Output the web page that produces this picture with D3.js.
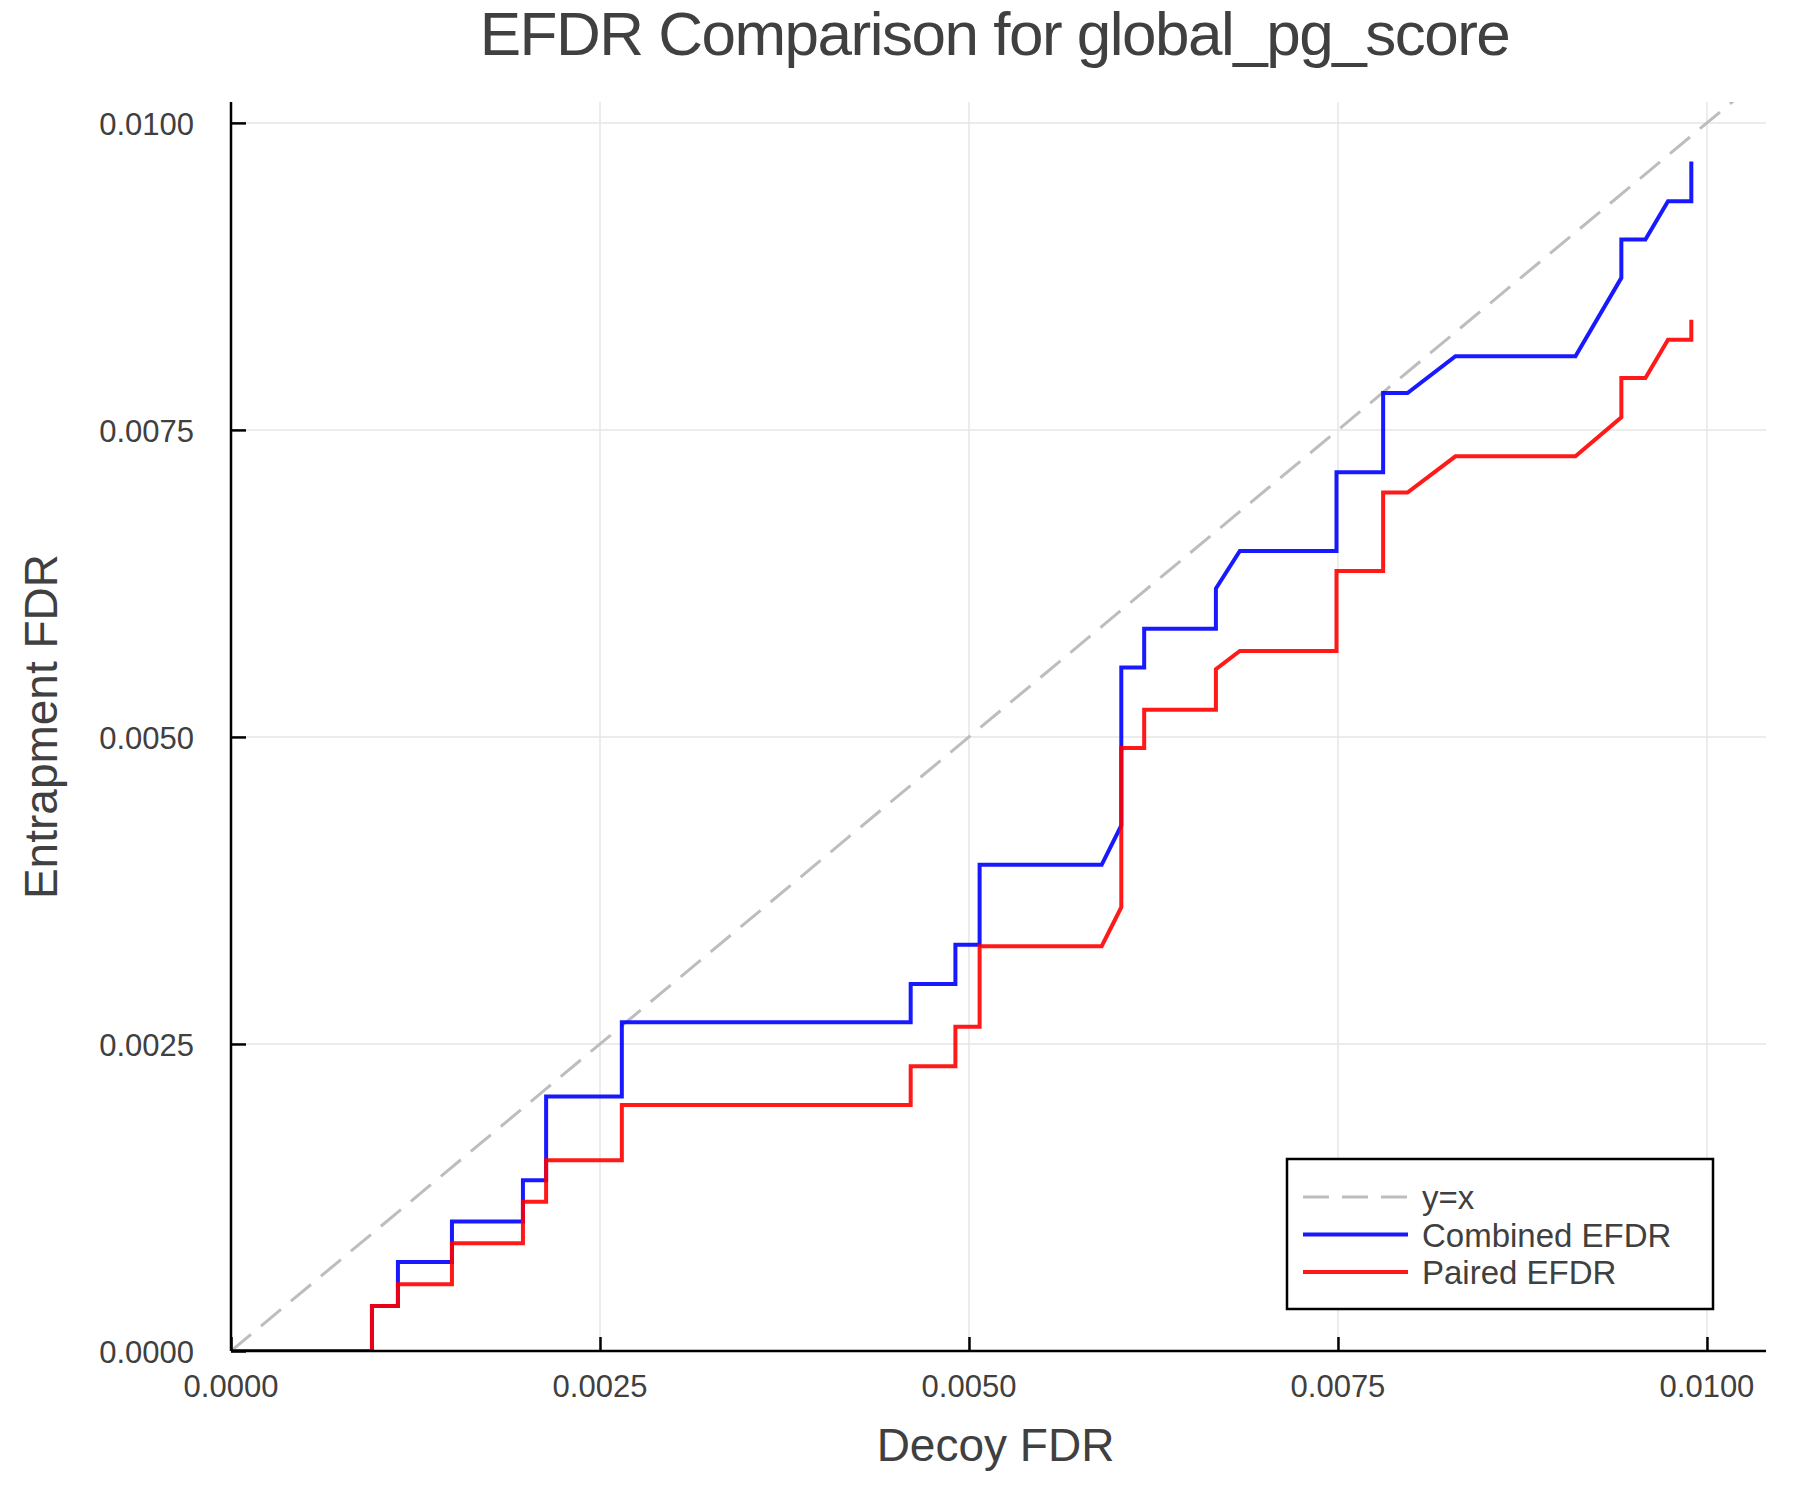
<!DOCTYPE html>
<html>
<head>
<meta charset="utf-8">
<script src="https://cdn.jsdelivr.net/npm/d3@7"></script>
<style>
  body { margin: 0; background: #fff; }
  svg text { font-family: "Liberation Sans", Arial, Helvetica, sans-serif; fill: #404040; }
</style>
</head>
<body>
<svg id="chart"></svg>
<script>
// values (decoy FDR vs entrapment FDR)
var xTicks = [0, 0.0025, 0.005, 0.0075, 0.01];
var yTicks = [0, 0.0025, 0.005, 0.0075, 0.01];

var decoyFdr = [0, 0.000955, 0.000955, 0.001131, 0.001131, 0.001497, 0.001497, 0.001978, 0.001978, 0.002135,
                0.002135, 0.002648, 0.002648, 0.004605, 0.004605, 0.004908, 0.004908, 0.005072, 0.005072, 0.005899,
                0.006032, 0.006032, 0.006187, 0.006187, 0.006673, 0.006673, 0.006835, 0.00749, 0.00749, 0.007806,
                0.007806, 0.007971, 0.008296, 0.009109, 0.00942, 0.00942, 0.009583, 0.009736, 0.009894, 0.009894];

var combinedEfdr = [0, 0, 0.000367, 0.000367, 0.000725, 0.000725, 0.001054, 0.001054, 0.001391, 0.001391,
                    0.002073, 0.002073, 0.002676, 0.002676, 0.002989, 0.002989, 0.003307, 0.003307, 0.003959, 0.003959,
                    0.004279, 0.005565, 0.005565, 0.00588, 0.00588, 0.006209, 0.006515, 0.006515, 0.007155, 0.007155,
                    0.0078, 0.0078, 0.0081, 0.0081, 0.008738, 0.00905, 0.00905, 0.009362, 0.009362, 0.009685];

var pairedEfdr = [0, 0, 0.000367, 0.000367, 0.000544, 0.000544, 0.000878, 0.000878, 0.001215, 0.001215,
                  0.001554, 0.001554, 0.002003, 0.002003, 0.002318, 0.002318, 0.002641, 0.002641, 0.003296, 0.003296,
                  0.003614, 0.00491, 0.00491, 0.005222, 0.005222, 0.005551, 0.0057, 0.0057, 0.006352, 0.006352,
                  0.00699, 0.00699, 0.007285, 0.007285, 0.007603, 0.007923, 0.007923, 0.008235, 0.008235, 0.008396];

var identityX = [0, 0.0104];
var seriesNames = ["y=x", "Combined EFDR", "Paired EFDR"];

var width = 1800,
    height = 1500,
    margins = { top: 102, left: 231, right: 34, bottom: 149 };

var svg = d3.select("#chart")
    .attr("width", width)
    .attr("height", height);

var xScale = d3.scaleLinear()
    .domain([0, 0.0104])
    .range([margins.left, width - margins.right]);

var yScale = d3.scaleLinear()
    .domain([0, 0.01017])
    .range([height - margins.bottom, margins.top]);

var fmt = d3.format(".4f");
var x0 = xScale.range()[0], x1 = xScale.range()[1];
var y0 = yScale.range()[0], y1 = yScale.range()[1];

svg.append("clipPath").attr("id", "plotClip")
  .append("rect")
    .attr("x", x0).attr("y", y1)
    .attr("width", x1 - x0).attr("height", y0 - y1);

// grid
svg.append("g").selectAll("line")
    .data(xTicks)
  .enter().append("line")
    .attr("x1", function(d) { return xScale(d); })
    .attr("x2", function(d) { return xScale(d); })
    .attr("y1", y0).attr("y2", y1)
    .style("stroke", "#e6e6e6").style("stroke-width", 1.5);

svg.append("g").selectAll("line")
    .data(yTicks)
  .enter().append("line")
    .attr("y1", function(d) { return yScale(d); })
    .attr("y2", function(d) { return yScale(d); })
    .attr("x1", x0).attr("x2", x1)
    .style("stroke", "#e6e6e6").style("stroke-width", 1.5);

// series
var plot = svg.append("g").attr("clip-path", "url(#plotClip)");

var line = d3.line()
    .x(function(d) { return xScale(d[0]); })
    .y(function(d) { return yScale(d[1]); });

plot.append("path")
    .datum(identityX.map(function(v) { return [v, v]; }))
    .attr("d", line)
    .style("fill", "none")
    .style("stroke", "#bdbdbd")
    .style("stroke-width", 3)
    .style("stroke-dasharray", "26,13");

plot.append("path")
    .datum(d3.zip(decoyFdr, combinedEfdr))
    .attr("d", line)
    .style("fill", "none")
    .style("stroke", "#0000ff")
    .style("stroke-opacity", 0.9)
    .style("stroke-width", 4);

plot.append("path")
    .datum(d3.zip(decoyFdr, pairedEfdr))
    .attr("d", line)
    .style("fill", "none")
    .style("stroke", "#ff0000")
    .style("stroke-opacity", 0.9)
    .style("stroke-width", 4);

// axes (ticks point into the plot)
var xAxis = d3.axisTop(xScale).tickValues(xTicks).tickSize(14).tickFormat("");
var yAxis = d3.axisRight(yScale).tickValues(yTicks).tickSize(15).tickFormat("");

var gx = svg.append("g").attr("transform", "translate(0," + y0 + ")").call(xAxis);
var gy = svg.append("g").attr("transform", "translate(" + x0 + ",0)").call(yAxis);
[gx, gy].forEach(function(g) {
  g.select(".domain").remove();
  g.selectAll(".tick line").style("stroke", "#000").style("stroke-width", 2.5);
});

svg.append("line")
    .attr("x1", x0).attr("x2", x1).attr("y1", y0).attr("y2", y0)
    .style("stroke", "#000").style("stroke-width", 2.5);
svg.append("line")
    .attr("x1", x0).attr("x2", x0).attr("y1", y0).attr("y2", y1)
    .style("stroke", "#000").style("stroke-width", 2.5);

svg.append("g").selectAll("text")
    .data(xTicks)
  .enter().append("text")
    .attr("x", function(d) { return xScale(d); })
    .attr("y", y0 + 46)
    .attr("text-anchor", "middle")
    .style("font-size", "31px")
    .text(fmt);

svg.append("g").selectAll("text")
    .data(yTicks)
  .enter().append("text")
    .attr("x", x0 - 37)
    .attr("y", function(d) { return yScale(d) + 12; })
    .attr("text-anchor", "end")
    .style("font-size", "31px")
    .text(fmt);

// titles
svg.append("text")
    .attr("x", (x0 + x1) / 2 - 4)
    .attr("y", 55)
    .attr("text-anchor", "middle")
    .style("font-size", "62px")
    .style("letter-spacing", "-1.5px")
    .text("EFDR Comparison for global_pg_score");

svg.append("text")
    .attr("x", (x0 + x1) / 2 - 3)
    .attr("y", 1461)
    .attr("text-anchor", "middle")
    .style("font-size", "46px")
    .text("Decoy FDR");

svg.append("text")
    .attr("transform", "translate(57," + ((y0 + y1) / 2) + ") rotate(-90)")
    .attr("text-anchor", "middle")
    .style("font-size", "46px")
    .text("Entrapment FDR");

// legend
var legend = svg.append("g").attr("transform", "translate(1287,1159)");
legend.append("rect")
    .attr("width", 426).attr("height", 150)
    .style("fill", "#fff").style("stroke", "#000").style("stroke-width", 2.5);

var legendStyles = [
  { colour: "#bdbdbd", dash: "26,13", width: 3 },
  { colour: "#0000ff", dash: null, width: 4 },
  { colour: "#ff0000", dash: null, width: 4 }
];

var item = legend.selectAll(".item")
    .data(seriesNames)
  .enter().append("g")
    .attr("class", "item")
    .attr("transform", function(d, i) { return "translate(0," + (38 + i * 37.5) + ")"; });

item.append("line")
    .attr("x1", 16).attr("x2", 121)
    .style("stroke", function(d, i) { return legendStyles[i].colour; })
    .style("stroke-opacity", function(d, i) { return i ? 0.9 : 1; })
    .style("stroke-width", function(d, i) { return legendStyles[i].width; })
    .style("stroke-dasharray", function(d, i) { return legendStyles[i].dash; });

item.append("text")
    .attr("x", 135)
    .attr("y", 12)
    .style("font-size", "33px")
    .text(function(d) { return d; });
</script>
</body>
</html>
